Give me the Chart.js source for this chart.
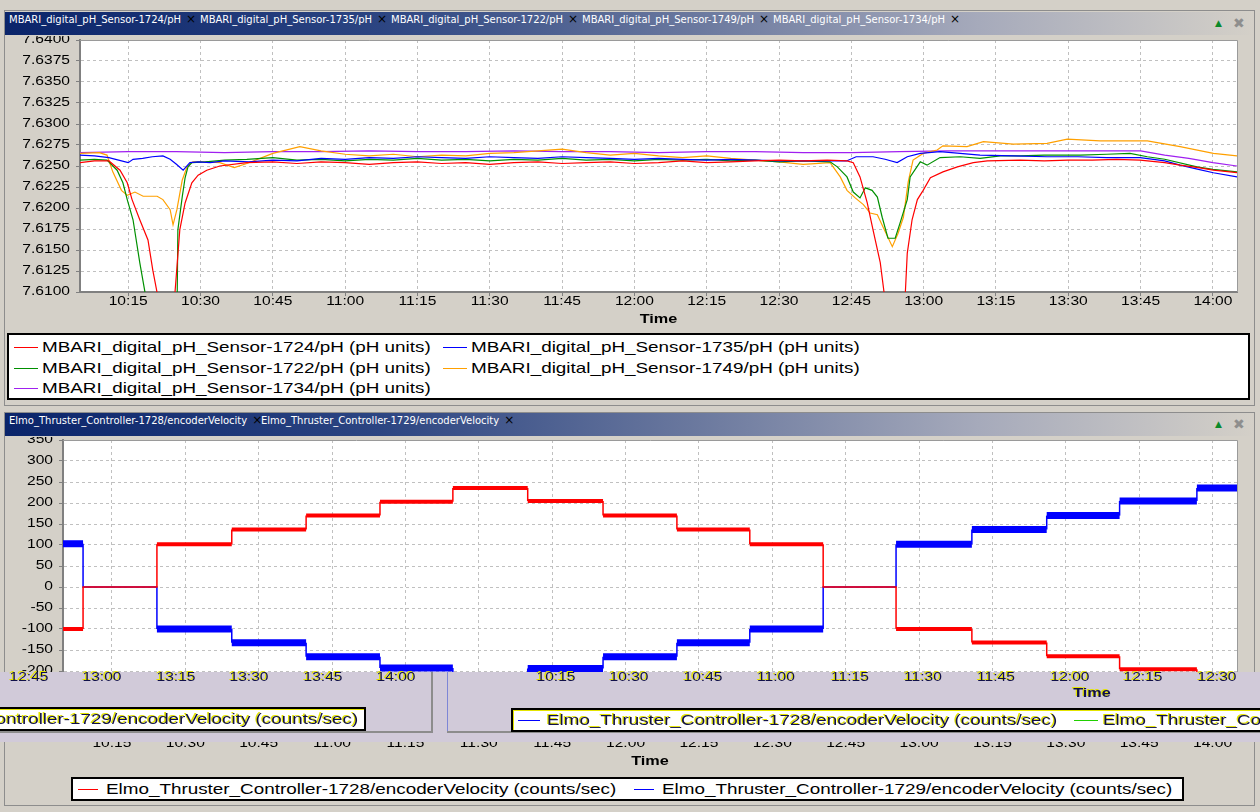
<!DOCTYPE html>
<html>
<head>
<meta charset="utf-8">
<title>pH sensors and thruster velocity</title>
<script src="https://cdn.jsdelivr.net/npm/chart.js@4.4.1/dist/chart.umd.min.js"></script>
<style>
  html, body { margin: 0; padding: 0; }
  body { position: relative; width: 1260px; height: 812px; overflow: hidden; background: #d4d0c8; font-family: "Liberation Sans", Arial, sans-serif; }
  div, canvas { position: absolute; }
  .win { border: 1px solid #8d8d8d; box-sizing: border-box; }
  .bar { height: 23px; background: linear-gradient(to right, #0a246a 0%, #2c4582 30%, #6a789e 55%, #a6aabb 78%, #d4d0c8 100%); }
  .tab { height: 23px; line-height: 23px; font: 10px "DejaVu Sans", sans-serif; color: #fff; white-space: nowrap; }
  .tab b { font-weight: normal; font-size: 12px; color: #000; margin-left: 5px; }
  .icon { height: 23px; line-height: 23px; font-family: "DejaVu Sans", sans-serif; }
  .box { background: #fff; border: 2px solid #000; box-sizing: border-box; }
  .item { height: 20px; line-height: 20px; font-size: 14.5px; white-space: nowrap; color: #000; }
  .item i { position: absolute; left: 0; top: 10px; height: 1px; }
  .item span { position: absolute; top: 0; display: inline-block; transform: scaleX(1.3); transform-origin: 0 50%; }
  .lbl { white-space: nowrap; font-size: 12px; color: #000; transform: translate(-50%, -50%) scaleX(1.3); }
  .ghost, .ghost span { color: #10104a; text-shadow: -1px -1px 0 #e4e400; }
</style>
</head>
<body>
<div class="win" style="left:4px;top:10px;width:1251px;height:396px"></div>
<div class="bar" style="left:5px;top:12px;width:1249px"></div>
<div class="win" style="left:4px;top:412px;width:1251px;height:394px"></div>
<div class="bar" style="left:5px;top:413px;width:1249px"></div>

<canvas id="phChart" width="1260" height="296" style="left:0;top:36px"></canvas>
<canvas id="velChart" width="1260" height="335" style="left:0;top:437px"></canvas>

<script>
// the chart text in the capture is drawn wider than plain Arial
const STRETCH = 1.3;

const timeTicks = ["10:15", "10:30", "10:45", "11:00", "11:15", "11:30", "11:45", "12:00",
                   "12:15", "12:30", "12:45", "13:00", "13:15", "13:30", "13:45", "14:00"];
const phTicks = ["7.6100", "7.6125", "7.6150", "7.6175", "7.6200", "7.6225", "7.6250",
                 "7.6275", "7.6300", "7.6325", "7.6350", "7.6375", "7.6400"];
const velTicks = ["-350", "-300", "-250", "-200", "-150", "-100", "-50", "0",
                  "50", "100", "150", "200", "250", "300", "350"];
const ghostLeftTicks = ["12:45", "13:00", "13:15", "13:30", "13:45", "14:00"];
const ghostRightTicks = ["10:15", "10:30", "10:45", "11:00", "11:15", "11:30", "11:45", "12:00", "12:15", "12:30"];

const phNames = ["MBARI_digital_pH_Sensor-1724/pH (pH units)", "MBARI_digital_pH_Sensor-1735/pH (pH units)",
                 "MBARI_digital_pH_Sensor-1722/pH (pH units)", "MBARI_digital_pH_Sensor-1749/pH (pH units)",
                 "MBARI_digital_pH_Sensor-1734/pH (pH units)"];
const velNames = ["Elmo_Thruster_Controller-1728/encoderVelocity (counts/sec)",
                  "Elmo_Thruster_Controller-1729/encoderVelocity (counts/sec)"];

// [minutes since midnight, pH]
const ph1724 = [[605, 7.6254], [608, 7.6256], [611, 7.6256], [613.3, 7.6245], [614.8, 7.6230], [615.8, 7.6210],
  [617.4, 7.6186], [619.1, 7.6162], [620.1, 7.6126], [621, 7.6099], [622.5, 7.6060], [624, 7.6045], [624.7, 7.6099],
  [625.7, 7.6174], [626.8, 7.6206], [628.2, 7.6230], [629.5, 7.6239], [631.3, 7.6245], [634, 7.6250], [639.6, 7.6254],
  [645, 7.6255], [650, 7.6253], [655, 7.6255], [660, 7.6254], [665, 7.6252], [670, 7.6254], [675, 7.6255], [680, 7.6253],
  [685, 7.6254], [690, 7.6252], [695, 7.6254], [700, 7.6255], [705, 7.6253], [710, 7.6254], [715, 7.6255], [720, 7.6253],
  [725, 7.6254], [730, 7.6256], [735, 7.6254], [740, 7.6255], [745, 7.6256], [750, 7.6257], [755, 7.6256], [760, 7.6257],
  [764.1, 7.6256], [765.4, 7.6254], [766.8, 7.6237], [768.3, 7.6206], [769.5, 7.6174], [771, 7.6135], [771.8, 7.6099],
  [773.5, 7.6050], [775.5, 7.6040], [776.2, 7.6099], [776.6, 7.6146], [777.6, 7.6186], [778.7, 7.6210], [779.9, 7.6221],
  [781.4, 7.6236], [784, 7.6243], [787, 7.6249], [790.3, 7.6254], [793.2, 7.6256], [800, 7.6257], [805, 7.6256],
  [810, 7.6257], [815, 7.6257], [820, 7.6258], [824.9, 7.6257], [830, 7.6254], [833.2, 7.6251], [837, 7.6248],
  [840.1, 7.6245], [845, 7.6242]];
const ph1735 = [[605, 7.6263], [608, 7.6262], [611, 7.6260], [613, 7.6257], [615, 7.6254], [616, 7.6258], [618, 7.6259],
  [620, 7.6261], [622.2, 7.6262], [623.7, 7.6258], [625, 7.6252], [626.4, 7.6245], [627.8, 7.6254], [629.5, 7.6255],
  [632, 7.6254], [635, 7.6256], [640, 7.6255], [645, 7.6257], [650, 7.6256], [655, 7.6259], [660, 7.6258], [665, 7.6260],
  [670, 7.6259], [675, 7.6261], [680, 7.6260], [685, 7.6259], [690, 7.6261], [695, 7.6260], [700, 7.6259], [705, 7.6261],
  [710, 7.6260], [715, 7.6259], [720, 7.6258], [725, 7.6259], [730, 7.6258], [735, 7.6257], [740, 7.6258], [745, 7.6257],
  [750, 7.6256], [755, 7.6256], [760, 7.6256], [764, 7.6256], [766, 7.6261], [769.5, 7.6261], [772, 7.6258],
  [774.5, 7.6254], [776.6, 7.6261], [779.3, 7.6265], [783.4, 7.6267], [791.7, 7.6263], [798.6, 7.6262], [805.6, 7.6261],
  [812, 7.6261], [818, 7.6260], [824.9, 7.6260], [830, 7.6256], [833.2, 7.6251], [837, 7.6246], [840.1, 7.6242], [845, 7.6237]];
const ph1722 = [[605, 7.6257], [608, 7.6258], [610.6, 7.6257], [612.7, 7.6245], [613.9, 7.6230], [614.8, 7.6210],
  [616, 7.6186], [617.4, 7.6135], [618.5, 7.6099], [619.5, 7.6060], [622, 7.6030], [625.1, 7.6060], [625.3, 7.6174],
  [626.2, 7.6213], [626.8, 7.6236], [627.4, 7.6249], [628.2, 7.6254], [631, 7.6255], [635, 7.6257], [639.6, 7.6258],
  [645, 7.6260], [650, 7.6257], [655, 7.6258], [660, 7.6256], [665, 7.6258], [670, 7.6257], [675, 7.6259], [680, 7.6257],
  [685, 7.6258], [690, 7.6256], [695, 7.6258], [700, 7.6257], [705, 7.6259], [710, 7.6257], [715, 7.6258], [720, 7.6256],
  [725, 7.6258], [730, 7.6257], [735, 7.6258], [740, 7.6256], [745, 7.6257], [750, 7.6255], [755, 7.6256], [760.6, 7.6255],
  [762.1, 7.6249], [764.1, 7.6237], [765.4, 7.6219], [766.8, 7.6212], [767.9, 7.6224], [769.3, 7.6221], [770.4, 7.6213],
  [771.4, 7.6189], [772.6, 7.6164], [774.1, 7.6164], [775.1, 7.6182], [776.6, 7.6210], [777.2, 7.6237], [779.3, 7.6255],
  [780.7, 7.6251], [783.4, 7.6260], [787.6, 7.6261], [791.7, 7.6259], [795.9, 7.6262], [800, 7.6262], [805, 7.6263],
  [812.5, 7.6263], [818, 7.6264], [822.8, 7.6265], [826.4, 7.6261], [830, 7.6258], [836.7, 7.6249], [840, 7.6246], [845, 7.6243]];
const ph1749 = [[605, 7.6265], [609, 7.6266], [610.6, 7.6263], [611.8, 7.6243], [613.6, 7.6221], [614.8, 7.6215],
  [616.4, 7.6219], [618.1, 7.6214], [621, 7.6214], [622.2, 7.6210], [623.7, 7.6198], [624.3, 7.6180], [625.1, 7.6198],
  [626.2, 7.6233], [627.2, 7.6249], [628.4, 7.6255], [631.3, 7.6255], [634, 7.6254], [637, 7.6248], [639.6, 7.6253],
  [645, 7.6265], [650.6, 7.6273], [655, 7.6268], [660, 7.6264], [665, 7.6262], [670, 7.6264], [675, 7.6261], [680, 7.6263],
  [685, 7.6262], [690, 7.6265], [695, 7.6266], [700, 7.6268], [705, 7.6270], [710, 7.6266], [715, 7.6263], [720, 7.6265],
  [725, 7.6262], [730, 7.6260], [735, 7.6262], [740, 7.6259], [745, 7.6257], [750, 7.6255], [755, 7.6252], [760.6, 7.6254],
  [762.7, 7.6237], [764.1, 7.6221], [765.8, 7.6212], [767.5, 7.6204], [768.9, 7.6194], [770.4, 7.6192], [771.6, 7.6177],
  [773.5, 7.6154], [774.7, 7.6170], [775.8, 7.6189], [776.8, 7.6231], [777.8, 7.6257], [779.9, 7.6265], [782.8, 7.6269],
  [784, 7.6274], [789, 7.6273], [792.4, 7.6279], [798.6, 7.6276], [805.6, 7.6277], [809.8, 7.6282], [816.6, 7.6280],
  [826.4, 7.6280], [833.2, 7.6273], [840.1, 7.6265], [845, 7.6262]];
const ph1734 = [[605, 7.6266], [615, 7.6267], [625, 7.6267], [635, 7.6266], [645, 7.6267], [655, 7.6267], [665, 7.6268],
  [675, 7.6267], [685, 7.6267], [695, 7.6268], [705, 7.6267], [715, 7.6267], [725, 7.6266], [735, 7.6267], [745, 7.6267],
  [755, 7.6266], [765, 7.6266], [775, 7.6267], [785, 7.6268], [795, 7.6268], [805, 7.6268], [815, 7.6268], [825, 7.6268],
  [830, 7.6263], [835, 7.6259], [840, 7.6254], [845, 7.6250]];

// thruster steps: level i holds from velStepTimes[i] to velStepTimes[i + 1]
const velStepTimes = [605, 609.1, 624.2, 639.5, 654.7, 669.8, 684.7, 700.0, 715.4, 730.5,
                      745.4, 760.4, 775.3, 790.8, 806.1, 821.0, 836.8, 845];
const vel1728 = [-100, 0, 102, 137, 170, 203, 236, 205, 170, 137, 102, 0, -100, -132, -165, -196, -235];
const vel1729 = [103, 0, -100, -133, -166, -193, -235, -194, -166, -133, -100, 0, 102, 137, 170, 205, 236];

const phColors = ["#ff0000", "#0000ff", "#009000", "#ffa000", "#a020f0"];
const velColors = ["#ff0000", "#0000ff"];
const velBand = [4, 7];

const toMin = s => { const [h, m] = s.split(":").map(Number); return h * 60 + m; };

function wideText(ctx, text, x, y, align, font) {
  ctx.save();
  ctx.font = font;
  ctx.fillStyle = "#000";
  ctx.textAlign = align;
  ctx.textBaseline = "middle";
  ctx.translate(x, y);
  ctx.scale(STRETCH, 1);
  ctx.fillText(text, 0, 0);
  ctx.restore();
}

function axisText(xLabels, yLabels, title) {
  return {
    id: "axisText",
    beforeDraw(chart) {
      const { ctx, chartArea: a } = chart;
      ctx.save();
      ctx.fillStyle = "#fff";
      ctx.fillRect(a.left, a.top, a.right - a.left, a.bottom - a.top);
      ctx.restore();
    },
    afterDraw(chart) {
      const { ctx, chartArea: a, scales: { x, y } } = chart;
      ctx.save();
      ctx.strokeStyle = "#9a9a9a";
      ctx.lineWidth = 1;
      ctx.beginPath();
      ctx.moveTo(a.left, a.top + 0.5);
      ctx.lineTo(a.right + 0.5, a.top + 0.5);
      ctx.lineTo(a.right + 0.5, a.bottom);
      ctx.stroke();
      ctx.restore();
      const f = '12px "Liberation Sans", Arial';
      yLabels.forEach(l => wideText(ctx, l, a.left - 10, y.getPixelForValue(Number(l)), "right", f));
      xLabels.forEach(l => wideText(ctx, l, x.getPixelForValue(toMin(l)), a.bottom + 10, "center", f));
      wideText(ctx, title, (a.left + a.right) / 2, a.bottom + 28, "center", 'bold 12.5px "Liberation Sans", Arial');
    }
  };
}

const grid = { color: "#c0c0c0", lineWidth: 1, tickLength: 4, tickColor: "#808080" };
const border = { color: "#808080", width: 2, dash: [3, 3] };

function makeChart(id, datasets, o) {
  return new Chart(document.getElementById(id), {
    type: "line",
    data: { datasets },
    options: {
      responsive: false,
      animation: false,
      events: [],
      layout: { padding: { top: o.top, right: o.right, left: 0, bottom: 0 } },
      elements: { point: { radius: 0 }, line: { tension: 0 } },
      plugins: { legend: { display: false }, tooltip: { enabled: false } },
      scales: {
        x: {
          type: "linear", min: 605, max: 845,
          ticks: { display: false },
          afterBuildTicks: s => { s.ticks = timeTicks.map(l => ({ value: toMin(l) })); },
          afterFit: s => { s.height = o.xHeight; },
          grid, border
        },
        y: {
          type: "linear", min: Number(o.yTicks[0]), max: Number(o.yTicks[o.yTicks.length - 1]),
          ticks: { display: false },
          afterBuildTicks: s => { s.ticks = o.yTicks.map(l => ({ value: Number(l) })); },
          afterFit: s => { s.width = o.yWidth; },
          grid, border
        }
      }
    },
    plugins: [axisText(timeTicks, o.yTicks, "Time")]
  });
}

const phSeries = [ph1724, ph1735, ph1722, ph1749, ph1734];
makeChart("phChart", phSeries.map((s, i) => ({
  label: phNames[i],
  data: s.map(([x, y]) => ({ x, y })),
  borderColor: phColors[i],
  borderWidth: 1.2
})), { top: 4, right: 23, xHeight: 40, yWidth: 80, yTicks: phTicks });

function stepPoints(levels) {
  const pts = [];
  levels.forEach((v, i) => pts.push({ x: velStepTimes[i], y: v }, { x: velStepTimes[i + 1], y: v }));
  return pts;
}
makeChart("velChart", [vel1728, vel1729].map((s, i) => ({
  label: velNames[i],
  data: stepPoints(s),
  borderColor: velColors[i],
  borderWidth: 1.5,
  segment: {
    borderWidth: c => (c.p0.parsed.x === c.p1.parsed.x || c.p0.parsed.y === 0) ? 1.5 : velBand[i]
  }
})), { top: 3, right: 23, xHeight: 38, yWidth: 63, yTicks: velTicks });

// ---- window chrome and legends ----
function add(cls, style, html) {
  const e = document.createElement("div");
  if (cls) e.className = cls;
  Object.assign(e.style, style);
  if (html != null) e.innerHTML = html;
  document.body.appendChild(e);
  return e;
}
function legendItem(x, cy, color, text, lineW, gap, extra) {
  add("item" + (extra ? " " + extra : ""), { left: x + "px", top: (cy - 10) + "px" },
    '<i style="width:' + lineW + 'px;background:' + color + '"></i><span style="left:' + gap + 'px">' + text + "</span>");
}
function icons(y) {
  add("icon", { left: "1215px", top: y + "px", fontSize: "9px", color: "#0a8a2a" }, "&#9650;");
  add("icon", { left: "1233px", top: y + "px", fontSize: "14px", color: "#8e8e8e" }, "&#10006;");
}

phNames.forEach((n, i) => add("tab", { left: (9 + i * 191) + "px", top: "12px" }, n.replace(" (pH units)", "") + "<b>&#215;</b>"));
icons(12);
velNames.forEach((n, i) => add("tab", { left: (9 + i * 252) + "px", top: "413px" }, n.replace(" (counts/sec)", "") + "<b>&#215;</b>"));
icons(413);

add("box", { left: "7px", top: "333px", width: "1243px", height: "67px" });
phNames.forEach((n, i) => legendItem(i % 2 ? 443 : 14, 347 + Math.floor(i / 2) * 20.5, phColors[i], n, 24, 28));

add("box", { left: "71px", top: "777px", width: "1113px", height: "24px" });
velNames.forEach((n, i) => legendItem(i ? 634 : 78, 789, velColors[i], n, 20, 28));

// ghost copy of the panel left on screen by the redraw
add("", { left: "0", top: "672px", width: "1260px", height: "70px", background: "#d1cad9" });
add("", { left: "431px", top: "672px", width: "2px", height: "61px", background: "#8c8c8c" });
add("", { left: "0", top: "731px", width: "433px", height: "2px", background: "#8c8c8c" });
add("", { left: "447px", top: "672px", width: "1px", height: "61px", background: "#7d86d6" });
add("", { left: "447px", top: "731px", width: "813px", height: "2px", background: "#8c8c8c" });
ghostLeftTicks.forEach((l, i) => add("lbl ghost", { left: (29 + i * 73.4) + "px", top: "677px" }, l));
ghostRightTicks.forEach((l, i) => add("lbl ghost", { left: (556 + i * 73.4) + "px", top: "677px" }, l));
add("lbl ghost", { left: "1092px", top: "693px", fontWeight: "bold", fontSize: "12.5px" }, "Time");
add("box", { left: "-20px", top: "707px", width: "386px", height: "24px", boxShadow: "inset 1px 1px 0 #e4e400" });
legendItem(-181, 719, "#0000ff", velNames[1], 22, 29, "ghost");
add("box", { left: "511px", top: "708px", width: "800px", height: "24px", boxShadow: "inset 1px 1px 0 #e4e400" });
legendItem(518, 720, "#0000ff", velNames[0], 22, 29, "ghost");
legendItem(1074, 720, "#20d000", velNames[1], 24, 29, "ghost");
</script>
</body>
</html>
